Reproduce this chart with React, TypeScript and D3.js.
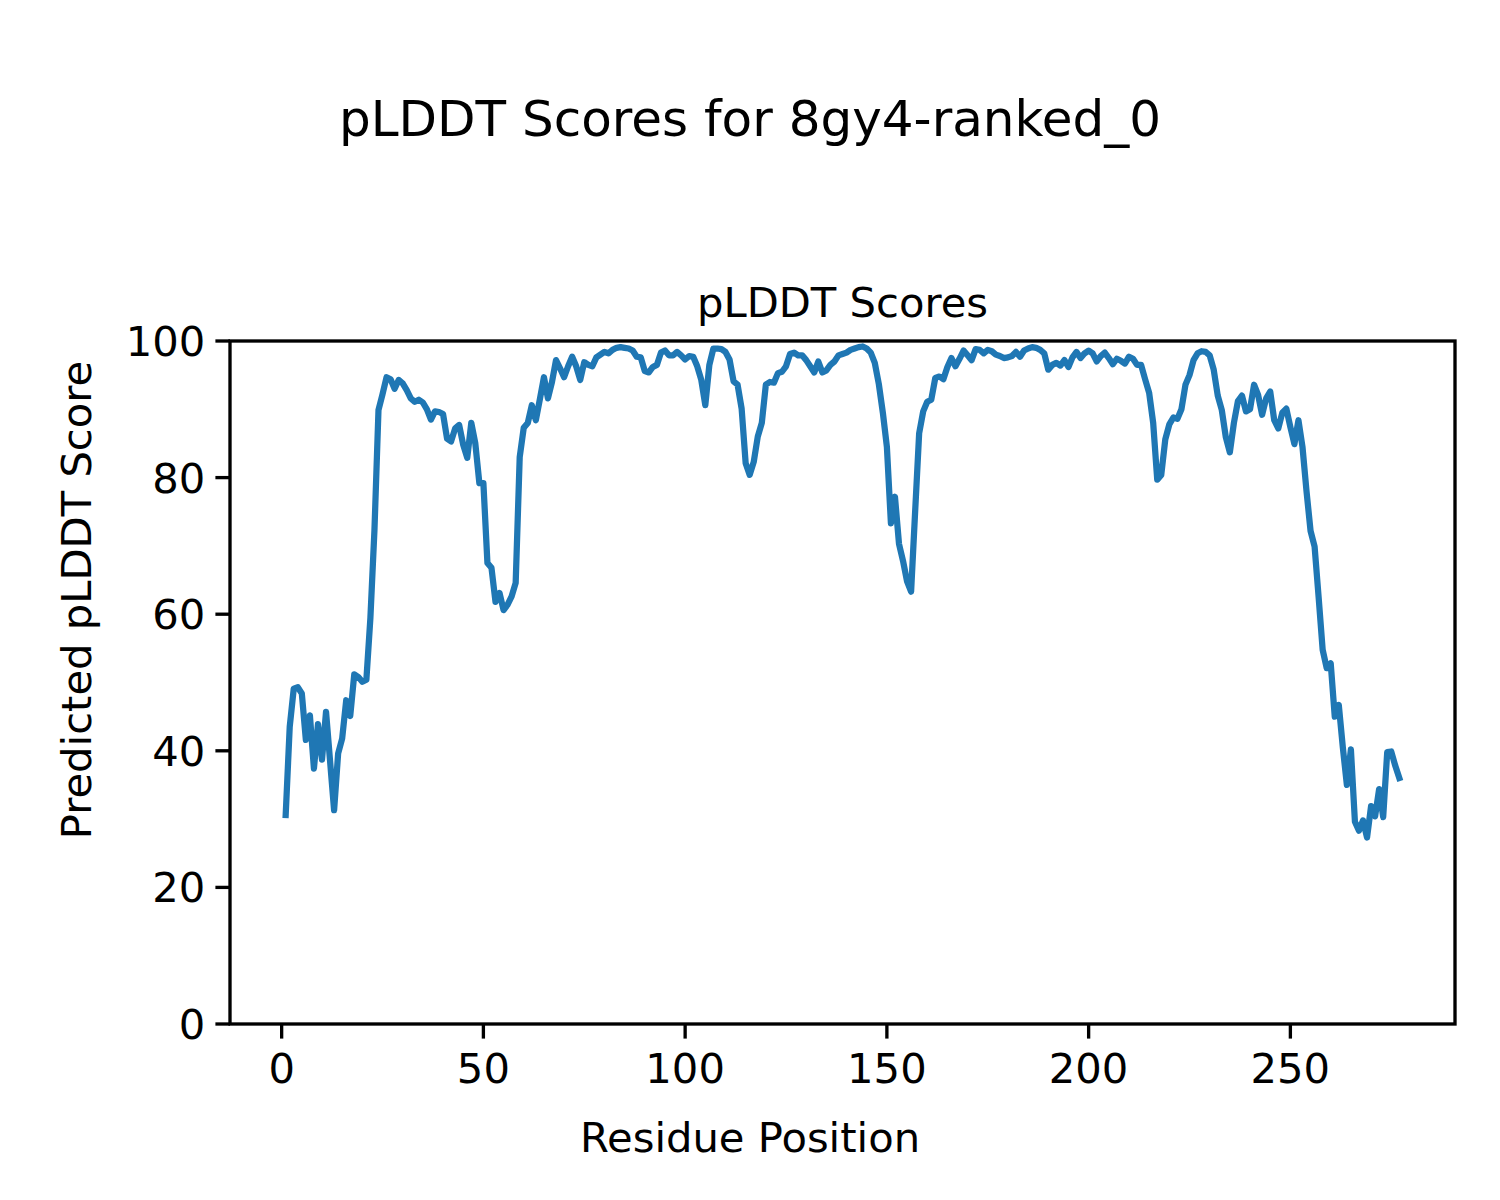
import React from "react";
import * as d3 from "d3";

const plddt: number[] = [
  30.6, 43.5, 49.1, 49.3, 48.4, 41.6, 45.2, 37.4, 43.9, 38.7,
  45.7, 38.5, 31.3, 39.6, 41.8, 47.4, 45.1, 51.2, 50.8, 50.1,
  50.4, 59.5, 72.3, 89.9, 92.2, 94.7, 94.4, 93.0, 94.3, 93.8,
  92.8, 91.6, 91.1, 91.4, 91.0, 90.0, 88.5, 89.7, 89.6, 89.3,
  85.7, 85.3, 87.2, 87.7, 84.8, 82.9, 88.0, 85.0, 79.2, 79.2,
  67.5, 66.8, 61.8, 63.1, 60.6, 61.4, 62.6, 64.6, 83.0, 87.3,
  88.0, 90.6, 88.4, 91.5, 94.7, 91.6, 94.0, 97.2, 96.0, 94.7,
  96.3, 97.7, 96.3, 94.3, 96.9, 96.5, 96.3, 97.6, 98.0, 98.4,
  98.2, 98.7, 99.0, 99.1, 99.0, 98.9, 98.6, 97.7, 97.6, 95.6,
  95.4, 96.2, 96.5, 98.3, 98.6, 97.9, 97.9, 98.4, 97.9, 97.3,
  97.8, 97.7, 96.3, 94.3, 90.6, 96.5, 98.9, 98.9, 98.8, 98.4,
  97.3, 94.1, 93.6, 90.1, 82.1, 80.4, 82.3, 86.0, 88.0, 93.6,
  94.0, 93.9, 95.3, 95.5, 96.3, 98.1, 98.3, 97.9, 97.9, 97.2,
  96.3, 95.4, 97.0, 95.4, 95.7, 96.5, 97.0, 97.9, 98.1, 98.3,
  98.7, 98.9, 99.1, 99.2, 98.9, 98.3, 96.8, 93.7, 89.5, 84.5,
  73.3, 77.2, 70.3, 67.8, 64.8, 63.3, 75.0, 86.5, 89.7, 91.1,
  91.4, 94.6, 94.8, 94.4, 96.2, 97.5, 96.3, 97.4, 98.6, 97.9,
  97.2, 98.8, 98.7, 98.2, 98.7, 98.5, 98.0, 97.8, 97.5, 97.6,
  97.8, 98.4, 97.7, 98.6, 98.9, 99.1, 99.0, 98.7, 98.2, 95.8,
  96.5, 96.8, 96.4, 97.2, 96.2, 97.6, 98.4, 97.5, 98.2, 98.6,
  98.2, 97.0, 97.8, 98.3, 97.5, 96.6, 97.4, 97.1, 96.7, 97.7,
  97.4, 96.5, 96.5, 94.4, 92.4, 88.0, 79.7, 80.4, 85.6, 87.8,
  88.8, 88.6, 90.0, 93.6, 95.0, 97.2, 98.2, 98.5, 98.4, 97.9,
  95.8, 92.0, 89.9, 85.9, 83.7, 88.0, 91.2, 92.0, 89.7, 90.0,
  93.6, 92.1, 89.2, 91.6, 92.6, 88.4, 87.2, 89.5, 90.1, 87.4,
  84.9, 88.4, 84.5, 78.0, 72.2, 69.9, 62.5, 54.8, 52.1, 52.8,
  45.0, 46.7, 40.5, 35.0, 40.2, 29.6, 28.3, 29.8, 27.3, 31.9,
  30.4, 34.4, 30.3, 39.8, 39.9, 37.8, 36.0,
];

const residues: number[] = plddt.map((_, i) => i + 1);
const xTicks: number[] = [0, 50, 100, 150, 200, 250];
const yTicks: number[] = [0, 20, 40, 60, 80, 100];

const suptitle = "pLDDT Scores for 8gy4-ranked_0";
const axTitle = "pLDDT Scores";
const xLabel = "Residue Position";
const yLabel = "Predicted pLDDT Score";

export default function App() {
  const W = 1500, H = 1200;
  const left = 230, right = 1455, top = 341, bottom = 1024;
  const xmin = d3.min(residues)!, xmax = d3.max(residues)!;
  const pad = (xmax - xmin) * 0.05;
  const x = d3.scaleLinear().domain([xmin - pad, xmax + pad]).range([left, right]);
  const y = d3.scaleLinear().domain([0, 100]).range([bottom, top]);
  const line = d3.line<number>().x((_, i) => x(residues[i])).y((d) => y(d));
  const font = "'DejaVu Sans', sans-serif";
  const fs = 41.7;
  const tickLen = 14.6;
  const tickW = 3.33;

  return (
    <svg width={W} height={H} style={{ position: "absolute", left: 0, top: 0, background: "#fff" }} fontFamily={font}>
      <rect x={0} y={0} width={W} height={H} fill="#fff" />
      <text x={750} y={136} fontSize={50} textAnchor="middle" fill="#000">{suptitle}</text>
      <text x={(left + right) / 2} y={317} fontSize={fs} textAnchor="middle" fill="#000">{axTitle}</text>
      <path d={line(plddt) || ""} fill="none" stroke="#1f77b4" strokeWidth={6.25} strokeLinejoin="round" strokeLinecap="square" />
      <rect x={left} y={top} width={right - left} height={bottom - top} fill="none" stroke="#000" strokeWidth={tickW} />
      {xTicks.map((t) => (
        <g key={"x" + t}>
          <line x1={x(t)} x2={x(t)} y1={bottom} y2={bottom + tickLen} stroke="#000" strokeWidth={tickW} />
          <text x={x(t)} y={1083} fontSize={fs} textAnchor="middle" fill="#000">{t}</text>
        </g>
      ))}
      {yTicks.map((t) => (
        <g key={"y" + t}>
          <line x1={left} x2={left - tickLen} y1={y(t)} y2={y(t)} stroke="#000" strokeWidth={tickW} />
          <text x={left - tickLen - 10} y={y(t)} dy="0.36em" fontSize={fs} textAnchor="end" fill="#000">{t}</text>
        </g>
      ))}
      <text x={750} y={1152} fontSize={fs} textAnchor="middle" fill="#000">{xLabel}</text>
      <text transform={`translate(91,600) rotate(-90)`} fontSize={fs} textAnchor="middle" fill="#000">{yLabel}</text>
    </svg>
  );
}
